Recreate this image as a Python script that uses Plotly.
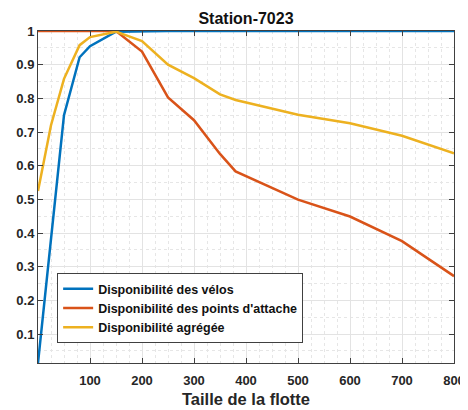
import plotly.graph_objects as go

fleet_size = [0, 25, 50, 80, 100, 150, 200, 250, 300, 350, 380, 500, 600, 700, 800]
dispo_velos = [0.014, 0.38, 0.75, 0.922, 0.955, 0.998, 1.0, 1.0, 1.0, 1.0, 1.0, 1.0, 1.0, 1.0, 1.0]
dispo_points = [1.0, 1.0, 1.0, 1.0, 1.0, 1.0, 0.939, 0.803, 0.735, 0.635, 0.583, 0.499, 0.449, 0.376, 0.272]
dispo_agregee = [0.525, 0.72, 0.858, 0.958, 0.982, 0.998, 0.97, 0.9, 0.86, 0.812, 0.795, 0.751, 0.726, 0.689, 0.637]

series_names = ["Disponibilité des vélos",
                "Disponibilité des points d'attache",
                "Disponibilité agrégée"]
series_colors = ["#0072BD", "#D95319", "#EDB120"]

x_ticks = [100, 200, 300, 400, 500, 600, 700, 800]
y_ticks = [0.1, 0.2, 0.3, 0.4, 0.5, 0.6, 0.7, 0.8, 0.9, 1.0]
y_tick_labels = ["0.1", "0.2", "0.3", "0.4", "0.5", "0.6", "0.7", "0.8", "0.9", "1"]

fig = go.Figure()
for name, ys, col in zip(series_names, [dispo_velos, dispo_points, dispo_agregee], series_colors):
    fig.add_trace(go.Scatter(x=fleet_size, y=ys, mode="lines", name=f"<b>{name}</b>",
                             line=dict(color=col, width=2.5)))

axis_col = "#404040"
font_fam = "Liberation Sans, Arial, sans-serif"

# the page body has an 8px margin, so the figure is 8px smaller than the window
W, H = 460, 402
fig.update_layout(
    width=W, height=H,
    margin=dict(l=30, r=14, t=23, b=47),
    paper_bgcolor="white", plot_bgcolor="white",
    font=dict(family=font_fam, color="#262626"),
    title=dict(text="<b>Station-7023</b>", x=0.5, xref="paper", xanchor="center",
               y=1 - 10 / H, yanchor="middle", font=dict(size=16, color="#111")),
    showlegend=True,
    legend=dict(x=0.046, y=0.271, xanchor="left", yanchor="top",
                bgcolor="white", bordercolor=axis_col, borderwidth=1,
                font=dict(size=12.5, color="#111", family=font_fam),
                tracegroupgap=0),
)

fig.update_xaxes(
    range=[0, 800], tickvals=x_ticks, ticktext=[f"<b>{v}</b>" for v in x_ticks],
    ticks="inside", ticklen=5, tickcolor=axis_col, mirror="allticks",
    showline=True, linecolor=axis_col, linewidth=1, automargin=False,
    showgrid=True, gridcolor="#e3e3e3", gridwidth=1, zeroline=False,
    tickfont=dict(size=13, color="#262626"), ticklabelstandoff=5,
    ticklabeloverflow="allow",
    minor=dict(dtick=25, tick0=0, showgrid=True, gridcolor="#e6e6e6", griddash="dot", ticks=""),
    title=dict(text="<b>Taille de la flotte</b>", font=dict(size=16.5, color="#262626"), standoff=6),
)
fig.update_yaxes(
    range=[0.014, 1.0], tickvals=y_ticks, ticktext=[f"<b>{t}</b>" for t in y_tick_labels],
    ticks="inside", ticklen=5, tickcolor=axis_col, mirror="allticks",
    showline=True, linecolor=axis_col, linewidth=1, automargin=False,
    showgrid=True, gridcolor="#e3e3e3", gridwidth=1, zeroline=False,
    tickfont=dict(size=13, color="#262626"),
    minor=dict(dtick=0.05, tick0=0, showgrid=True, gridcolor="#e6e6e6", griddash="dot", ticks=""),
)

fig.write_html("out.html")
